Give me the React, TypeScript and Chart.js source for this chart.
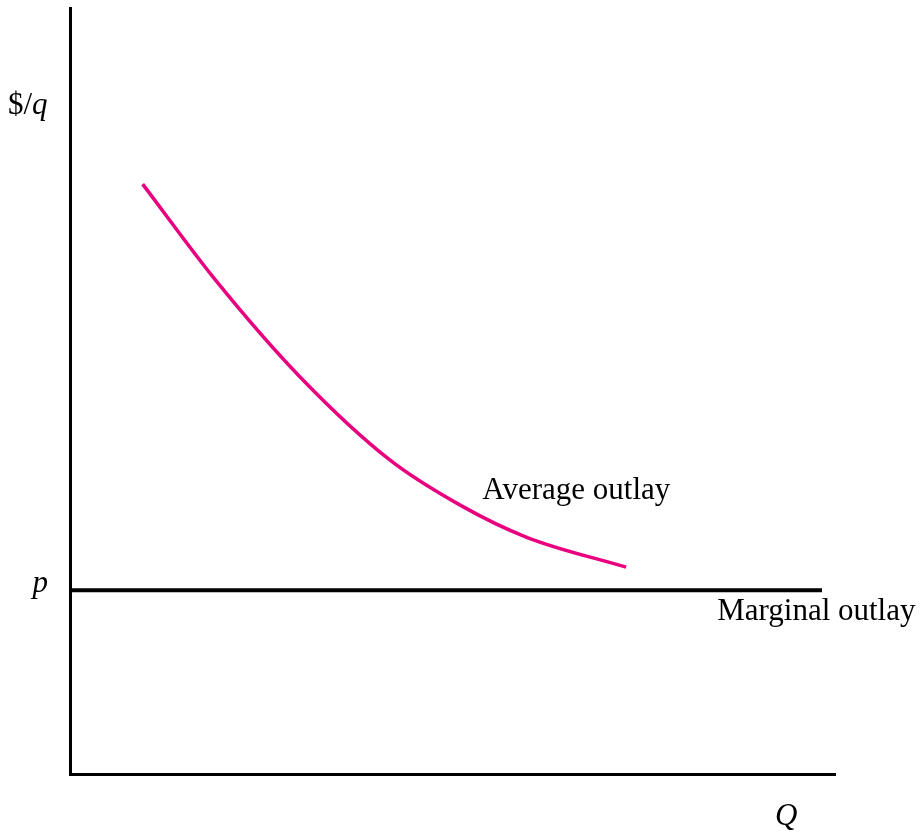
import React, { useEffect, useRef } from "react";
import { Chart, registerables } from "chart.js";

Chart.register(...registerables);

// Average outlay curve (quantity Q, $ per unit q)
const quantity = [0.95, 1.9, 3.01, 4.18, 5.1, 5.97, 7.27];
const averageOutlay = [7.7, 6.45, 5.18, 4.1, 3.51, 3.09, 2.7];

// Marginal outlay: flat at price p
const price = 2.4;
const marginalQuantity = [0, 9.83];
const marginalOutlay = [price, price];

// Axis ranges
const xMin = 0;
const xMax = 10;
const yMin = 0;
const yMax = 10;

// Texts
const yAxisSymbol = "$/";
const yAxisItalic = "q";
const xAxisLabel = "Q";
const priceLabel = "p";
const averageLabel = "Average outlay";
const marginalLabel = "Marginal outlay";

const SERIF = '"Liberation Serif", "Times New Roman", Times, serif';

const annotationPlugin = {
  id: "economicAnnotations",
  afterDraw(chart: any) {
    const { ctx, chartArea, scales } = chart;
    const x = scales.x;
    const y = scales.y;
    ctx.save();
    ctx.fillStyle = "#000";
    ctx.textBaseline = "alphabetic";
    const normal = `31px ${SERIF}`;
    const italic = `italic 31px ${SERIF}`;

    // curve labels anchored in data space
    ctx.font = normal;
    ctx.textAlign = "left";
    ctx.fillText(averageLabel, x.getPixelForValue(5.39), y.getPixelForValue(3.59));
    ctx.fillText(marginalLabel, x.getPixelForValue(8.46), y.getPixelForValue(2.01));

    // y axis label "$/q"
    const yx = chartArea.left - 62;
    const yy = 114;
    ctx.font = normal;
    ctx.fillText(yAxisSymbol, yx, yy);
    const w = ctx.measureText(yAxisSymbol).width;
    ctx.font = italic;
    ctx.fillText(yAxisItalic, yx + w, yy);

    // price label p
    ctx.font = italic;
    ctx.textAlign = "right";
    ctx.fillText(priceLabel, chartArea.left - 22, y.getPixelForValue(price) + 2);

    // x axis label Q
    ctx.textAlign = "left";
    ctx.fillText(xAxisLabel, chartArea.right - 60, chartArea.bottom + 51);

    ctx.restore();
  },
};

export default function App() {
  const canvasRef = useRef<HTMLCanvasElement | null>(null);

  useEffect(() => {
    const canvas = canvasRef.current;
    if (!canvas) return;
    const chart = new Chart(canvas, {
      type: "scatter",
      data: {
        datasets: [
          {
            label: averageLabel,
            data: quantity.map((q, i) => ({ x: q, y: averageOutlay[i] })),
            showLine: true,
            borderColor: "#E8007F",
            backgroundColor: "#E8007F",
            borderWidth: 3.5,
            cubicInterpolationMode: "monotone",
            pointRadius: 0,
            borderCapStyle: "butt",
          },
          {
            label: marginalLabel,
            data: marginalQuantity.map((q, i) => ({ x: q, y: marginalOutlay[i] })),
            showLine: true,
            borderColor: "#000",
            backgroundColor: "#000",
            borderWidth: 4,
            pointRadius: 0,
            borderCapStyle: "butt",
          },
        ],
      },
      options: {
        responsive: false,
        animation: false,
        layout: { padding: { left: 70, right: 87, top: 8, bottom: 61 } },
        plugins: {
          legend: { display: false },
          tooltip: { enabled: false },
        },
        scales: {
          x: {
            type: "linear",
            min: xMin,
            max: xMax,
            grid: { display: false, drawTicks: false },
            ticks: { display: false },
            border: { display: true, color: "#000", width: 3 },
          },
          y: {
            type: "linear",
            min: yMin,
            max: yMax,
            grid: { display: false, drawTicks: false },
            ticks: { display: false },
            border: { display: true, color: "#000", width: 3 },
          },
        },
      },
      plugins: [annotationPlugin],
    } as any);
    return () => chart.destroy();
  }, []);

  return (
    <div style={{ position: "absolute", left: 0, top: 0, width: 922, height: 835, background: "#fff" }}>
      <canvas ref={canvasRef} width={922} height={835} style={{ display: "block" }} />
    </div>
  );
}
